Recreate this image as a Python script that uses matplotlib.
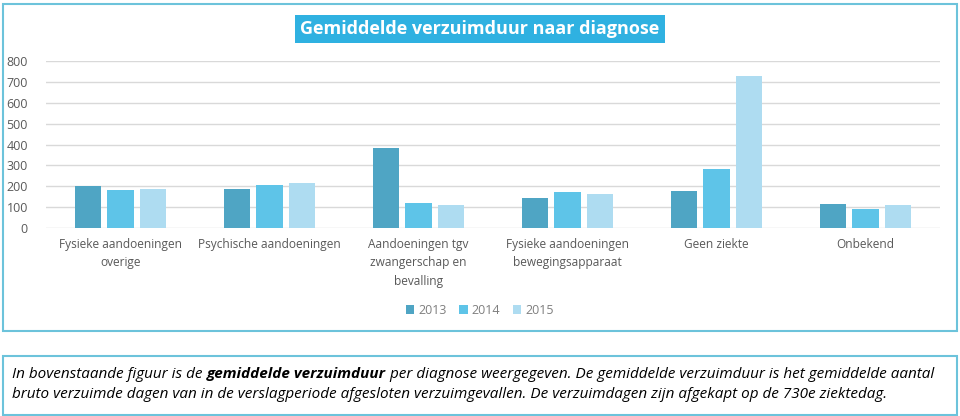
import matplotlib.pyplot as plt
import numpy as np
from matplotlib.patches import Rectangle

plt.rcParams['font.family'] = ['Open Sans', 'DejaVu Sans']

# data
categories = [
    'Fysieke aandoeningen\noverige',
    'Psychische aandoeningen',
    'Aandoeningen tgv\nzwangerschap en\nbevalling',
    'Fysieke aandoeningen\nbewegingsapparaat',
    'Geen ziekte',
    'Onbekend',
]
years = ['2013', '2014', '2015']
v2013 = [202, 187, 383, 142, 177, 116]
v2014 = [182, 207, 120, 172, 281, 89]
v2015 = [187, 215, 109, 163, 728, 109]
colors = ['#4FA5C4', '#5EC4E8', '#AEDCF1']

W, H = 960, 416
fig = plt.figure(figsize=(W / 100, H / 100), dpi=100)


def px(x0, y0, x1, y1):
    # pixel box (top-left origin) -> figure fraction rect
    return [x0 / W, 1 - y1 / H, (x1 - x0) / W, (y1 - y0) / H]


# frames
border = '#6CC3DB'
fig.patches.append(Rectangle((3 / W, 1 - 331 / H), 954 / W, 327 / H,
                             transform=fig.transFigure, fill=False,
                             edgecolor=border, lw=1.5))
fig.patches.append(Rectangle((3 / W, 1 - 415 / H), 954 / W, 59 / H,
                             transform=fig.transFigure, fill=False,
                             edgecolor=border, lw=1.5))

ax = fig.add_axes(px(46, 61, 940, 228))
x = np.arange(len(categories))
w = 0.175
step = 0.22
for i, (vals, c, lab) in enumerate(zip([v2013, v2014, v2015], colors, years)):
    ax.bar(x + (i - 1) * step, vals, w, color=c, label=lab, zorder=3)

ax.set_ylim(0, 800)
ax.set_xlim(-0.5, len(categories) - 0.5)
ax.set_yticks(range(0, 801, 100))
ax.grid(axis='y', color='#D9D9D9', lw=1, zorder=0)
for s in ax.spines.values():
    s.set_visible(False)
ax.tick_params(length=0, labelcolor='#595959', labelsize=9)
ax.tick_params(axis='x', pad=7, labelsize=8.6)
ax.tick_params(axis='y', pad=13)
ax.set_xticks(x)
ax.set_xticklabels(categories, linespacing=1.55)

leg = ax.legend(loc='center', bbox_to_anchor=(0.485, -0.495), ncol=3,
                frameon=False, fontsize=9, handlelength=0.7, handleheight=0.7,
                handletextpad=0.3, columnspacing=1.0, labelcolor='#7F7F7F')

# title box
fig.text(480 / W, 1 - 29 / H, 'Gemiddelde verzuimduur naar diagnose',
         ha='center', va='center', color='white', fontsize=13,
         fontweight='bold',
         bbox=dict(boxstyle='square,pad=0.3', fc='#2FB1E1', ec='none'))

# description text
fs = 11
t1 = fig.text(12 / W, 1 - 374 / H, 'In bovenstaande figuur is de ',
              style='italic', fontsize=fs, va='center')
t2 = fig.text(0, 0, 'gemiddelde verzuimduur', style='italic', weight='bold',
              fontsize=fs, va='center')
t3 = fig.text(0, 0, ' per diagnose weergegeven. De gemiddelde verzuimduur is '
              'het gemiddelde aantal', style='italic', fontsize=fs, va='center')
fig.text(12 / W, 1 - 394 / H,
         'bruto verzuimde dagen van in de verslagperiode afgesloten '
         'verzuimgevallen. De verzuimdagen zijn afgekapt op de 730e ziektedag.',
         style='italic', fontsize=fs, va='center')

fig.canvas.draw()
r = fig.canvas.get_renderer()
inv = fig.transFigure.inverted()
bb = t1.get_window_extent(r)
t2.set_position(inv.transform((bb.x1, bb.y0 + bb.height / 2)))
fig.canvas.draw()
bb = t2.get_window_extent(r)
t3.set_position(inv.transform((bb.x1, bb.y0 + bb.height / 2)))

fig.savefig('out.png', dpi=100)
